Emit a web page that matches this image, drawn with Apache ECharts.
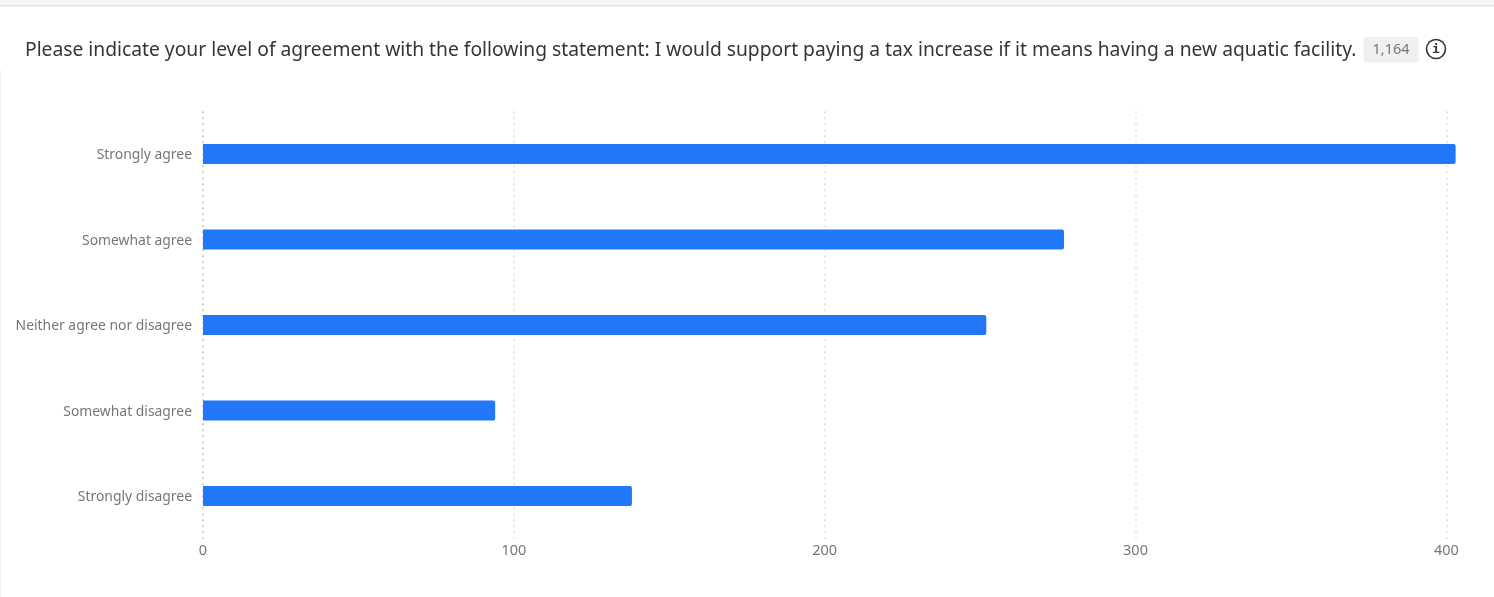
<!DOCTYPE html>
<html>
<head>
<meta charset="utf-8">
<title>Aquatic facility tax support</title>
<style>
  html, body { margin: 0; padding: 0; background: #fff; }
  #chart { width: 1494px; height: 597px; }
</style>
<script src="https://cdn.jsdelivr.net/npm/echarts@6/dist/echarts.min.js"></script>
</head>
<body>
<div id="chart"></div>
<script>
const questionText = 'Please indicate your level of agreement with the following statement: I would support paying a tax increase if it means having a new aquatic facility.';
const responseCount = '1,164';
const categories = ['Strongly agree', 'Somewhat agree', 'Neither agree nor disagree', 'Somewhat disagree', 'Strongly disagree'];
const responses = [403, 277, 252, 94, 138];

const FONT = '"Noto Sans", sans-serif';
const chart = echarts.init(document.getElementById('chart'), null, { renderer: 'canvas' });

chart.setOption({
  animation: false,
  backgroundColor: '#ffffff',
  title: {
    text: questionText,
    left: 25,
    top: 38,
    padding: 0,
    textStyle: { fontFamily: FONT, fontSize: 19.25, fontWeight: 400, color: '#32363a', lineHeight: 25 }
  },
  grid: { left: 203, top: 111.3, width: 1274.4, height: 427.4, containLabel: false },
  xAxis: {
    type: 'value',
    min: 0,
    max: 410,
    interval: 100,
    axisLine: { show: false },
    axisTick: { show: false },
    axisLabel: {
      showMaxLabel: false,
      color: '#73777d',
      fontFamily: FONT,
      fontSize: 14.5,
      margin: 5
    },
    splitLine: {
      showMinLine: false,
      showMaxLine: false,
      lineStyle: { color: '#e6e7e9', width: 2, type: [2, 4] }
    }
  },
  yAxis: {
    type: 'category',
    inverse: true,
    data: categories,
    axisLine: { show: true, lineStyle: { color: '#cfd1d4', width: 2, type: [2, 4], cap: 'butt' } },
    axisTick: { show: false },
    axisLabel: {
      margin: 11,
      formatter: '{name|{value}}',
      rich: {
        name: { color: '#73777d', fontFamily: FONT, fontSize: 13.9, padding: [3, 0, 0, 0] }
      }
    }
  },
  series: [{
    type: 'bar',
    data: responses,
    barWidth: 20,
    itemStyle: { color: '#2277f9', borderRadius: [0, 2, 2, 0] },
    z: 3
  }],
  graphic: [
    // Page chrome: top strip and the card's left edge
    { type: 'rect', shape: { x: 0, y: 0, width: 1494, height: 5 }, style: { fill: '#f5f5f5' }, silent: true },
    { type: 'rect', shape: { x: 0, y: 5, width: 1494, height: 1.5 }, style: { fill: '#e4e4e4' }, silent: true },
    { type: 'rect', shape: { x: 0, y: 70, width: 1, height: 527 }, style: { fill: '#f1f1f1' }, silent: true },
    // Response count badge
    { type: 'rect', shape: { x: 1363.5, y: 37, width: 55, height: 25.5, r: 3 }, style: { fill: '#f0f0f0' }, silent: true },
    { type: 'text', style: { x: 1391, y: 50, text: responseCount, fill: '#73777d', font: '14.5px ' + FONT, align: 'center', verticalAlign: 'middle' }, silent: true },
    // Info icon
    { type: 'circle', shape: { cx: 1436, cy: 49, r: 9.5 }, style: { fill: 'none', stroke: '#32363a', lineWidth: 1.6 }, silent: true },
    { type: 'text', style: { x: 1436, y: 49.5, text: 'i', fill: '#32363a', font: '600 13px "DejaVu Sans Mono", monospace', align: 'center', verticalAlign: 'middle' }, silent: true }
  ]
});
</script>
</body>
</html>
